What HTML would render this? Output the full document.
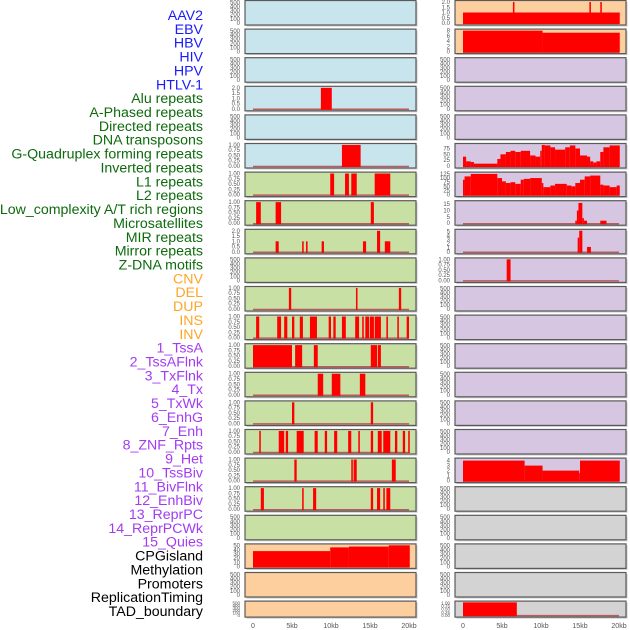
<!DOCTYPE html>
<html><head><meta charset="utf-8">
<style>
html,body{margin:0;padding:0;background:#fff;width:630px;height:630px;overflow:hidden}
svg{display:block}
</style></head>
<body>
<svg id="chart" width="630" height="630" viewBox="0 0 630 630" xmlns="http://www.w3.org/2000/svg"></svg>
<script>
// ---- data ----
const trackLabels = ["AAV2","EBV","HBV","HIV","HPV","HTLV-1","Alu repeats","A-Phased repeats","Directed repeats","DNA transposons","G-Quadruplex forming repeats","Inverted repeats","L1 repeats","L2 repeats","Low_complexity A/T rich regions","Microsatellites","MIR repeats","Mirror repeats","Z-DNA motifs","CNV","DEL","DUP","INS","INV","1_TssA","2_TssAFlnk","3_TxFlnk","4_Tx","5_TxWk","6_EnhG","7_Enh","8_ZNF_Rpts","9_Het","10_TssBiv","11_BivFlnk","12_EnhBiv","13_ReprPC","14_ReprPCWk","15_Quies","CPGisland","Methylation","Promoters","ReplicationTiming","TAD_boundary"];
const labelGroups = ["virus","virus","virus","virus","virus","virus","rep","rep","rep","rep","rep","rep","rep","rep","rep","rep","rep","rep","rep","sv","sv","sv","sv","sv","cs","cs","cs","cs","cs","cs","cs","cs","cs","cs","cs","cs","cs","cs","cs","oth","oth","oth","oth","oth"];
const xTicks = [0,5,10,15,20];
const xTickLabels = ["0","5kb","10kb","15kb","20kb"];

// left column panels: ticks, max, bars [start kb, end kb, value]
const leftBg = ["blue","blue","blue","blue","blue","blue","green","green","green","green","green","green","green","green","green","green","green","green","green","orange","orange","orange"];
const leftTicks = [
 "500","500","500","2","500","1","1","1","2","500","1","1","1","1","1","1","1","1","500","50","500","500"];
const leftBars = [
 [],[],[],
 [[8.7,10.1,2]],
 [],
 [[11.4,13.8,1]],
 [[9.9,10.4,1],[11.8,12.3,1],[12.6,13.3,1],[15.6,17.6,1]],
 [[0.4,1.0,1],[2.9,3.6,1],[15.1,15.5,1]],
 [[2.9,3.3,1],[6.3,6.5,1],[6.8,7.0,1],[8.8,9.1,1],[14.1,14.5,1],[15.9,16.3,2],[16.9,17.6,1]],
 [],
 [[4.6,4.9,1],[13.2,13.4,1],[18.7,19.0,1]],
 [[0.4,0.8,1],[3.1,3.6,1],[4.0,4.4,1],[5.0,5.3,1],[6.0,6.4,1],[7.3,8.2,1],[9.7,10.0,1],[10.3,10.6,1],[11.4,11.9,1],[13.1,13.6,1],[14.0,14.2,1],[14.4,14.9,1],[15.0,15.5,1],[15.6,16.4,1],[17.1,17.3,1],[18.5,18.7,1],[19.7,20.0,1]],
 [[0,5.0,1],[5.4,6.3,1],[7.8,8.3,1],[15.1,15.9,1],[16.0,16.4,1]],
 [[8.3,9.0,1],[10.1,11.2,1],[13.7,14.4,1]],
 [[5.0,5.3,1],[15.1,15.4,1]],
 [[0.8,1.0,1],[3.3,4.0,1],[4.2,4.5,1],[5.6,6.5,1],[7.9,8.3,1],[9.2,9.5,1],[10.4,10.8,1],[12.2,12.6,1],[13.5,13.7,1],[15.1,15.4,1],[16.0,16.5,1],[16.7,17.6,1],[18.2,18.5,1],[19.2,19.5,1],[19.9,20.1,1]],
 [[5.3,5.6,1],[12.6,12.8,1],[12.9,13.3,1],[17.8,18.3,1]],
 [[1.0,1.4,1],[6.3,6.5,1],[7.7,8.1,1],[15.1,15.4,1],[15.9,16.3,1],[16.7,16.9,1],[17.1,17.6,1]],
 [],
 [[0,9.9,37],[9.9,12.3,46],[12.3,17.4,48],[17.4,20.1,51]],
 [],[]
];

// right column
const rightBg = ["orange","orange","purple","purple","purple","purple","purple","purple","purple","purple","purple","purple","purple","purple","purple","purple","purple","gray","gray","gray","gray","gray"];
const rightTicks = ["2","8","500","500","500","75","125","15","5","1","500","500","500","500","500","500","4","500","500","500","500","1"];
const g4Breaks = [0,0.4,1.0,1.4,4.4,4.8,5.5,6.1,6.7,7.4,8.6,9.3,9.9,10.1,10.5,11.2,11.8,13.1,13.7,14.4,15.0,15.9,16.3,16.7,17.1,17.6,18.0,18.8,20.1];
const g4Values = [40,20,17,10,30,50,60,65,60,65,45,40,65,90,88,80,70,80,88,75,45,40,20,15,20,60,80,88];
const invBreaks = [0,0.2,1.0,4.4,5.0,5.5,6.1,6.7,7.4,7.8,8.6,10.1,10.3,11.2,11.8,12.5,13.3,13.9,14.4,15.0,15.6,16.3,17.6,18.0,18.8,19.7,20.1];
const invValues = [90,110,125,100,80,70,75,65,90,95,100,70,45,55,65,65,55,50,70,90,110,115,60,55,45,55];
function stepsToBars(b,v){const out=[];for(let i=0;i<v.length;i++)out.push([b[i],b[i+1],v[i]]);return out;}
const rightBars = [
 [[0,20.1,1],[6.4,6.6,2],[16.2,16.4,2],[17.6,17.8,2]],
 [[0,10.2,8],[10.2,20.1,7.2]],
 [],[],[],
 stepsToBars(g4Breaks,g4Values),
 stepsToBars(invBreaks,invValues),
 [[14.4,14.6,2],[14.6,14.8,10],[14.8,15.3,16],[15.3,15.5,4],[15.5,15.9,2],[17.6,18.4,2]],
 [[14.7,14.9,3.5],[14.9,15.3,5.2],[15.9,16.4,1.2]],
 [[5.6,6.1,1]],
 [],[],[],[],[],[],
 [[0,7.9,4],[7.9,10.2,3],[10.2,14.9,2],[14.9,15.0,1.5],[15.0,20.1,4]],
 [],[],[],[],
 [[0,6.9,1]]
];

const tickSets = {
 "500":{max:520,t:[0,100,200,300,400,500],l:["0","100","200","300","400","500"]},
 "2":{max:2.05,t:[0,0.5,1,1.5,2],l:["0.0","0.5","1.0","1.5","2.0"]},
 "1":{max:1.02,t:[0,0.25,0.5,0.75,1],l:["0.00","0.25","0.50","0.75","1.00"]},
 "50":{max:52,t:[0,10,20,30,40,50],l:["0","10","20","30","40","50"]},
 "8":{max:8.2,t:[0,2,4,6,8],l:["0","2","4","6","8"]},
 "75":{max:92,t:[0,25,50,75],l:["0","25","50","75"]},
 "125":{max:130,t:[0,25,50,75,100,125],l:["0","25","50","75","100","125"]},
 "15":{max:17,t:[0,5,10,15],l:["0","5","10","15"]},
 "5":{max:5.3,t:[0,1,2,3,4,5],l:["0","1","2","3","4","5"]},
 "4":{max:4.3,t:[0,1,2,3,4],l:["0","1","2","3","4"]}
};
const bgColors = {blue:"#c8e4ec",green:"#c8e0a4",orange:"#fecf9e",purple:"#d6c6e2",gray:"#d3d3d3"};
const groupColors = {virus:"#1a1aff",rep:"#0d6b0d",sv:"#ffa526",cs:"#a23cf2",oth:"#000000"};

// ---- drawing ----
const NS="http://www.w3.org/2000/svg";
const svg=document.getElementById('chart');
function el(tag,attrs,parent){const e=document.createElementNS(NS,tag);for(const k in attrs)e.setAttribute(k,attrs[k]);(parent||svg).appendChild(e);return e;}

// labels
const labelTop=15, labelStep=(611-15)/43;
trackLabels.forEach((t,i)=>{
  const tx=el('text',{x:203,y:labelTop+i*labelStep+5,'text-anchor':'end','font-family':'Liberation Sans, sans-serif','font-size':'14.2',fill:groupColors[labelGroups[i]]});
  tx.textContent=t;
  
  
});

function rowTop(i){return 0.5+i*28.6;}
function rowH(i){return i===21?16:24.5;}

function drawColumn(px0,bgs,ticks,bars,side){
  const xs=kb=>px0+8+kb*7.8;
  for(let i=0;i<bgs.length;i++){
    const top=rowTop(i),h=rowH(i),bottom=top+h;
    const g=el('g',{});
    
    
    el('rect',{x:px0+1.5,y:top+1.5,width:171,height:h,fill:'#c8c8c8'},g);
    el('rect',{x:px0,y:top,width:171,height:h,fill:bgColors[bgs[i]],stroke:'#5a5a5a','stroke-width':1.2},g);
    const ts=tickSets[ticks[i]];
    const base=bottom-2, ytop=top+1;
    const ys=v=>base-v/ts.max*(base-ytop);
    ts.t.forEach((v,k)=>{
      const tl=el('text',{x:px0-5,y:ys(v)+2,'text-anchor':'end','font-family':'Liberation Sans, sans-serif','font-size':i===21?'4.5':'6',fill:'#555'},g);
      tl.textContent=ts.l[k];
      
      
    });
    if(ticks[i]!=="500"){
      el('line',{x1:xs(0),x2:xs(20),y1:base+0.5,y2:base+0.5,stroke:'#b85c5c','stroke-width':1.5},g);
    }
    bars[i].forEach(b=>{
      const r=el('rect',{x:xs(b[0]),y:ys(b[2]),width:Math.max(xs(b[1])-xs(b[0]),1.2),height:base+1-ys(b[2]),fill:'#ff0000'},g);
      
      
    });
  }
  xTicks.forEach((v,k)=>{
    const t=el('text',{x:xs(v),y:628,'text-anchor':'middle','font-family':'Liberation Sans, sans-serif','font-size':'7',fill:'#555'});
    t.textContent=xTickLabels[k];
    
    
  });
}
drawColumn(245,leftBg,leftTicks,leftBars,'left');
drawColumn(455,rightBg,rightTicks,rightBars,'right');
</script>
</body></html>
